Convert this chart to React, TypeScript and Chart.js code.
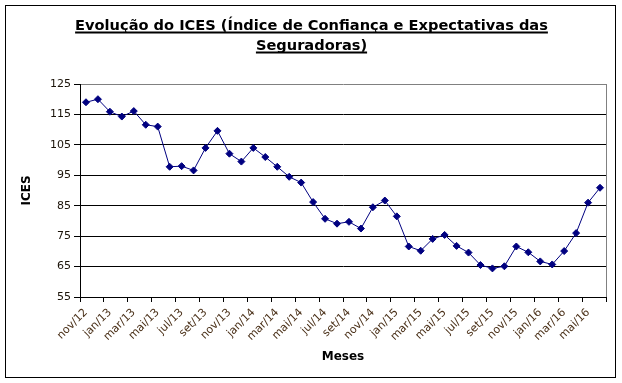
import React, { useEffect, useRef } from "react";
import { Chart, registerables } from "chart.js";

Chart.register(...registerables);

const titleLines = [
  "Evolução do ICES (Índice de Confiança e Expectativas das",
  "Seguradoras)",
];
const yAxisTitle = "ICES";
const xAxisTitle = "Meses";

const months = [
  "nov/12", "dez/12",
  "jan/13", "fev/13", "mar/13", "abr/13", "mai/13", "jun/13", "jul/13", "ago/13", "set/13", "out/13", "nov/13", "dez/13",
  "jan/14", "fev/14", "mar/14", "abr/14", "mai/14", "jun/14", "jul/14", "ago/14", "set/14", "out/14", "nov/14", "dez/14",
  "jan/15", "fev/15", "mar/15", "abr/15", "mai/15", "jun/15", "jul/15", "ago/15", "set/15", "out/15", "nov/15", "dez/15",
  "jan/16", "fev/16", "mar/16", "abr/16", "mai/16", "jun/16",
];

const icesValues = [
  119.0, 120.0, 115.9, 114.3, 116.1, 111.6, 111.0, 97.8, 98.0, 96.6, 104.0, 109.6,
  102.1, 99.5, 104.0, 101.0, 97.8, 94.5, 92.6, 86.2, 80.7, 79.1, 79.7, 77.5,
  84.5, 86.7, 81.5, 71.6, 70.2, 74.1, 75.4, 71.8, 69.6, 65.5, 64.4, 65.1,
  71.6, 69.7, 66.7, 65.7, 70.1, 76.0, 86.0, 90.9,
];

const yMin = 55;
const yMax = 125;
const yStep = 10;

const FONT = "'DejaVu Sans', Tahoma, Verdana, sans-serif";

const framePlugin = {
  id: "frameAndTitle",
  beforeDatasetsDraw(chart: any) {
    const { ctx, chartArea } = chart;
    ctx.save();
    ctx.strokeStyle = "#808080";
    ctx.lineWidth = 1;
    ctx.beginPath();
    ctx.moveTo(Math.round(chartArea.right) + 0.5, Math.round(chartArea.top));
    ctx.lineTo(Math.round(chartArea.right) + 0.5, Math.round(chartArea.bottom));
    ctx.stroke();
    ctx.restore();
  },
  afterDraw(chart: any) {
    const { ctx } = chart;
    ctx.save();
    ctx.strokeStyle = "#000";
    ctx.lineWidth = 1;
    ctx.strokeRect(5.5, 5.5, 610, 372);
    ctx.fillStyle = "#000";
    ctx.font = `bold 14.6px ${FONT}`;
    ctx.textAlign = "left";
    ctx.textBaseline = "alphabetic";
    const cx = 311.5;
    const baselines = [29.5, 49.5];
    titleLines.forEach((line, i) => {
      const w = ctx.measureText(line).width;
      const x = cx - w / 2;
      ctx.fillText(line, x, baselines[i]);
      ctx.fillRect(x, baselines[i] + 2, w, 2);
    });
    ctx.restore();
  },
};

export default function App() {
  const canvasRef = useRef<HTMLCanvasElement | null>(null);

  useEffect(() => {
    if (!canvasRef.current) return;
    const chart = new Chart(canvasRef.current, {
      type: "line",
      data: {
        labels: months,
        datasets: [
          {
            data: icesValues,
            borderColor: "#000080",
            backgroundColor: "#000080",
            borderWidth: 1,
            pointStyle: "rectRot",
            pointRadius: 3.5,
            pointBorderWidth: 1,
            pointBackgroundColor: "#000080",
            pointBorderColor: "#000080",
            tension: 0,
            fill: false,
          },
        ],
      },
      options: {
        responsive: false,
        animation: false,
        layout: { padding: { top: 84, right: 16, left: 0, bottom: 0 } },
        plugins: {
          legend: { display: false },
          tooltip: { enabled: false },
          title: { display: false },
        },
        scales: {
          x: {
            type: "category",
            offset: true,
            afterFit: (scale: any) => {
              scale.height = 86;
            },
            grid: {
              offset: true,
              drawOnChartArea: false,
              drawTicks: true,
              tickLength: 5,
              tickColor: (c: any) =>
                c.index === undefined || c.index % 2 === 0 ? "#000" : "rgba(0,0,0,0)",
            },
            border: { display: true, color: "#000", width: 1 },
            ticks: {
              autoSkip: false,
              maxRotation: 45,
              minRotation: 45,
              padding: 4,
              color: "#4a3018",
              font: { family: FONT, size: 11 },
              callback: (_v: any, i: number) => (i % 2 === 0 ? months[i] : ""),
            },
            title: {
              display: true,
              text: xAxisTitle,
              color: "#000",
              font: { family: FONT, size: 12, weight: "bold" },
              padding: { top: 0, bottom: 19 },
            },
          },
          y: {
            min: yMin,
            max: yMax,
            afterFit: (scale: any) => {
              scale.width = 80;
            },
            ticks: {
              stepSize: yStep,
              color: "#1a1208",
              padding: 3,
              font: { family: FONT, size: 11 },
            },
            grid: {
              color: (c: any) => (c.tick && c.tick.value === yMax ? "#808080" : "#000"),
              tickColor: "#000",
              tickLength: 6,
              lineWidth: 1,
            },
            border: { display: true, color: "#000", width: 1 },
            title: {
              display: true,
              text: yAxisTitle,
              color: "#000",
              font: { family: FONT, size: 12, weight: "bold" },
              padding: { top: 20, bottom: 0 },
            },
          },
        },
      },
      plugins: [framePlugin],
    } as any);
    return () => chart.destroy();
  }, []);

  return (
    <div style={{ position: "absolute", left: 0, top: 0, width: 622, height: 383, background: "#fff" }}>
      <canvas ref={canvasRef} width={622} height={383} style={{ width: 622, height: 383, display: "block" }} />
    </div>
  );
}
